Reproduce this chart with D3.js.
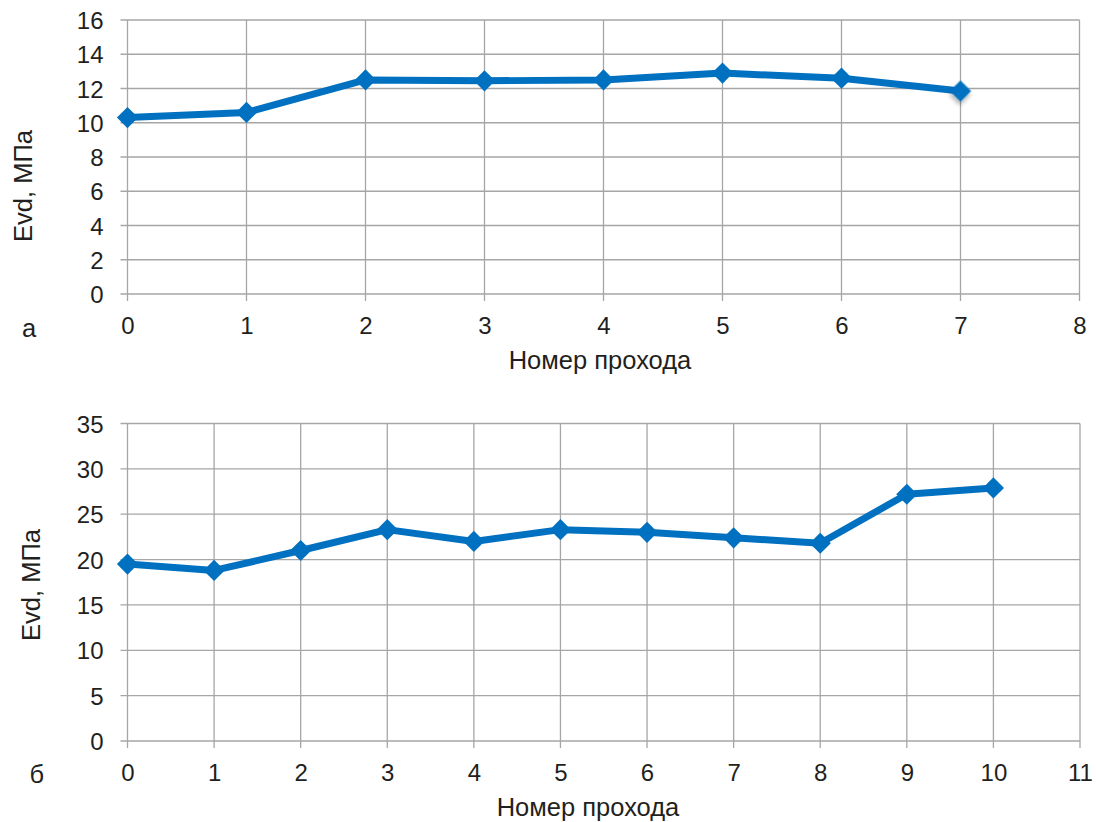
<!DOCTYPE html>
<html>
<head>
<meta charset="utf-8">
<script src="https://cdn.jsdelivr.net/npm/d3@7"></script>
<style>
  body { margin: 0; background: #fff; }
  svg text { font-family: "Liberation Sans", Arial, sans-serif; fill: #231f20; }
</style>
</head>
<body>
<div id="chart"></div>
<script>
// pass numbers and Evd values (MPa)
const passesA = [0, 1, 2, 3, 4, 5, 6, 7];
const evdA = [10.3, 10.6, 12.5, 12.45, 12.5, 12.9, 12.6, 11.85];
const xTicksA = [0, 1, 2, 3, 4, 5, 6, 7, 8];
const yTicksA = [0, 2, 4, 6, 8, 10, 12, 14, 16];

const passesB = [0, 1, 2, 3, 4, 5, 6, 7, 8, 9, 10];
const evdB = [19.5, 18.8, 21.0, 23.3, 22.0, 23.3, 23.0, 22.4, 21.8, 27.2, 27.9];
const xTicksB = [0, 1, 2, 3, 4, 5, 6, 7, 8, 9, 10, 11];
const yTicksB = [0, 5, 10, 15, 20, 25, 30, 35];

const xTitle = "Номер прохода";
const yTitle = "Evd, МПа";

const svg = d3.select("#chart").append("svg")
    .attr("width", 1096)
    .attr("height", 822);

const defs = svg.append("defs");
const shadow = defs.append("filter").attr("id", "shadow")
    .attr("x", "-50%").attr("y", "-50%").attr("width", "200%").attr("height", "200%");
shadow.append("feDropShadow")
    .attr("dx", 2).attr("dy", 3).attr("stdDeviation", 2)
    .attr("flood-color", "#000").attr("flood-opacity", 0.3);

drawChart({
    xs: passesA, ys: evdA, xTicks: xTicksA, yTicks: yTicksA,
    left: 127.5, right: 1079.5, top: 20, bottom: 294,
    letter: "а", letterX: 22, letterY: 337,
    yTitleX: 22.5, yTitleY: 186, titleX: 600, shadowLast: true
});

drawChart({
    xs: passesB, ys: evdB, xTicks: xTicksB, yTicks: yTicksB,
    left: 127.5, right: 1080, top: 423.5, bottom: 741,
    letter: "б", letterX: 29.5, letterY: 783,
    yTitleX: 31, yTitleY: 585, titleX: 588, shadowLast: false
});

function drawChart(c) {
    const x = d3.scaleLinear()
        .domain(d3.extent(c.xTicks))
        .range([c.left, c.right]);

    const y = d3.scaleLinear()
        .domain(d3.extent(c.yTicks))
        .range([c.bottom, c.top]);

    const g = svg.append("g");

    // grid
    g.selectAll(".hgrid").data(c.yTicks).enter().append("line")
        .attr("x1", c.left - 7).attr("x2", c.right)
        .attr("y1", d => y(d)).attr("y2", d => y(d))
        .attr("stroke", "#a6a6a6").attr("stroke-width", 1.3);

    g.selectAll(".vgrid").data(c.xTicks).enter().append("line")
        .attr("x1", d => x(d)).attr("x2", d => x(d))
        .attr("y1", c.top).attr("y2", c.bottom + 7)
        .attr("stroke", "#a6a6a6").attr("stroke-width", 1.3);

    // axes (labels only, lines drawn above)
    const yAxis = g.append("g")
        .attr("transform", "translate(" + c.left + ",0)")
        .call(d3.axisLeft(y).tickValues(c.yTicks).tickSize(7).tickPadding(17));
    yAxis.select(".domain").remove();
    yAxis.selectAll(".tick line").remove();
    yAxis.selectAll("text").attr("font-size", 24).attr("dy", "0.36em")
        .style("font-family", "'Liberation Sans', Arial, sans-serif").attr("fill", "#231f20");

    const xAxis = g.append("g")
        .attr("transform", "translate(0," + c.bottom + ")")
        .call(d3.axisBottom(x).tickValues(c.xTicks).tickSize(7));
    xAxis.select(".domain").remove();
    xAxis.selectAll(".tick line").remove();
    xAxis.selectAll("text").attr("font-size", 24).attr("y", 40).attr("dy", 0)
        .style("font-family", "'Liberation Sans', Arial, sans-serif").attr("fill", "#231f20");

    // titles
    g.append("text")
        .attr("x", c.titleX).attr("y", c.bottom + 75)
        .attr("text-anchor", "middle")
        .attr("font-size", 25.5)
        .text(xTitle);

    g.append("text")
        .attr("transform", "translate(" + (c.yTitleX + 9) + "," + c.yTitleY + ") rotate(-90)")
        .attr("text-anchor", "middle")
        .attr("font-size", 25.5)
        .text(yTitle);

    g.append("text")
        .attr("x", c.letterX).attr("y", c.letterY)
        .attr("font-size", 25.5)
        .text(c.letter);

    // series
    const pts = c.xs.map((d, i) => [d, c.ys[i]]);

    const line = d3.line()
        .x(d => x(d[0]))
        .y(d => y(d[1]));

    g.append("path")
        .datum(pts)
        .attr("fill", "none")
        .attr("stroke", "#0070c0")
        .attr("stroke-width", 7)
        .attr("stroke-linejoin", "round")
        .attr("d", line);

    const marker = d3.symbol(d3.symbolSquare).size(225);

    g.selectAll(".pt").data(pts).enter().append("path")
        .attr("d", marker)
        .attr("fill", "#0070c0")
        .attr("transform", d => "translate(" + x(d[0]) + "," + y(d[1]) + ") rotate(45)")
        .attr("filter", (d, i) => c.shadowLast && i === pts.length - 1 ? "url(#shadow)" : null);
}
</script>
</body>
</html>
